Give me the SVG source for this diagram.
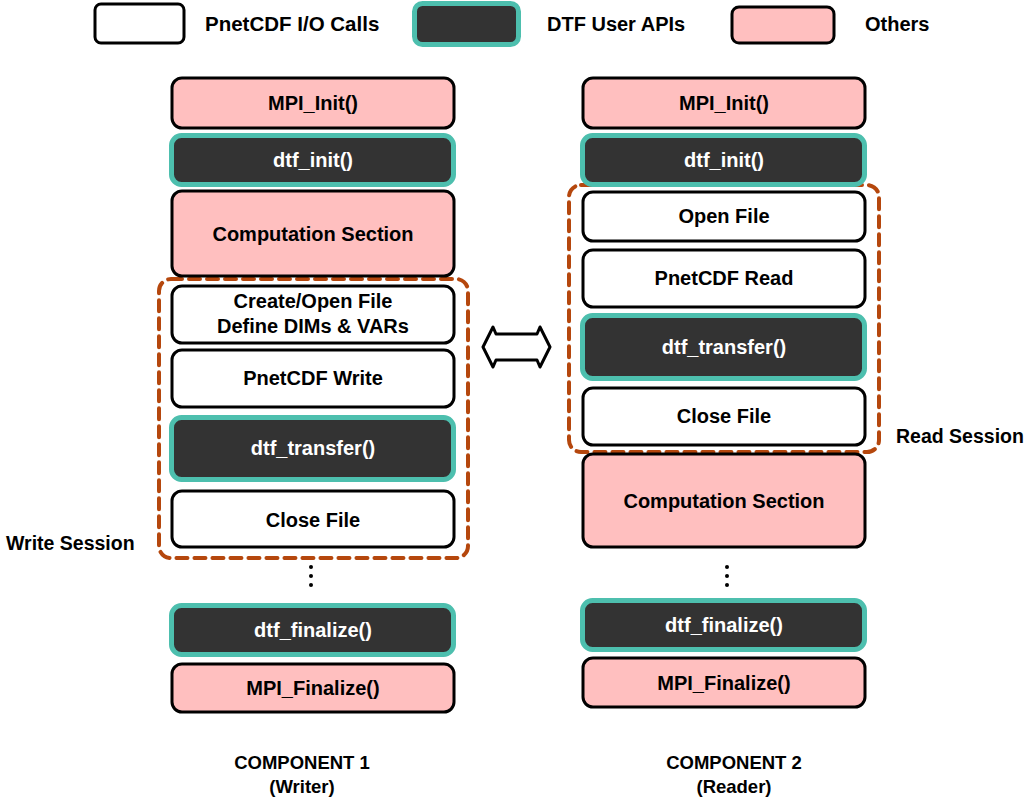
<svg xmlns="http://www.w3.org/2000/svg" width="1031" height="804" viewBox="0 0 1031 804">
<style>
text{font-family:"Liberation Sans",Arial,Helvetica,sans-serif;font-weight:bold;font-size:20px;text-anchor:middle;fill:#000}
.io{fill:#fff;stroke:#000;stroke-width:3}
.oth{fill:#ffbfbf;stroke:#000;stroke-width:3}
.dtf{fill:#333;stroke:#4dbfae;stroke-width:5}
text.w{fill:#fff}
.sess{fill:none;stroke:#b5470d;stroke-width:4;stroke-dasharray:11 7;stroke-linecap:round}
.lbl{text-anchor:start}
.comp{font-size:18.5px}
</style>
<rect width="1031" height="804" fill="#fff"/>
<g id="legend">
<rect class="io" x="95" y="4" width="89" height="39" rx="6"/>
<text class="lbl" x="205" y="31" style="font-size:20.5px">PnetCDF I/O Calls</text>
<rect class="dtf" x="414.5" y="3.5" width="104" height="41" rx="8"/>
<text class="lbl" x="547" y="31">DTF User APIs</text>
<rect class="oth" x="732" y="7" width="102" height="36" rx="7"/>
<text class="lbl" x="865" y="31">Others</text>
</g>
<g id="sessions">
<rect class="sess" x="159" y="279" width="309" height="279" rx="12"/>
<rect class="sess" x="569" y="185" width="310" height="267" rx="12"/>
<text class="lbl" x="6" y="550" style="font-size:19.5px">Write Session</text>
<text class="lbl" x="896" y="443" style="font-size:19.5px">Read Session</text>
</g>
<g id="c1-mpi-init"><rect class="oth" x="172" y="78" width="282" height="50" rx="10"/><text x="313" y="110">MPI_Init()</text></g>
<g id="c1-dtf-init"><rect class="dtf" x="171.5" y="135.5" width="282" height="49" rx="10"/><text class="w" x="313" y="167">dtf_init()</text></g>
<g id="c1-comp"><rect class="oth" x="172" y="191" width="282" height="85" rx="10"/><text x="313" y="241">Computation Section</text></g>
<g id="c1-create"><rect class="io" x="172" y="286" width="282" height="57" rx="10"/><text x="313" y="308">Create/Open File</text><text x="313" y="333">Define DIMs &amp; VARs</text></g>
<g id="c1-write"><rect class="io" x="172" y="350" width="282" height="57" rx="10"/><text x="313" y="385">PnetCDF Write</text></g>
<g id="c1-transfer"><rect class="dtf" x="171.5" y="417.5" width="282" height="62" rx="10"/><text class="w" x="313" y="455">dtf_transfer()</text></g>
<g id="c1-close"><rect class="io" x="172" y="491" width="282" height="56" rx="10"/><text x="313" y="527">Close File</text></g>
<g id="c1-dots" fill="#000"><circle cx="311" cy="567" r="2"/><circle cx="311" cy="576" r="2"/><circle cx="311" cy="585" r="2"/></g>
<g id="c1-finalize"><rect class="dtf" x="171.5" y="605.5" width="282" height="49" rx="10"/><text class="w" x="313" y="637">dtf_finalize()</text></g>
<g id="c1-mpi-finalize"><rect class="oth" x="172" y="664" width="282" height="48" rx="10"/><text x="313" y="695">MPI_Finalize()</text></g>
<g id="c1-label"><text class="comp" x="302" y="769">COMPONENT 1</text><text class="comp" x="302" y="793">(Writer)</text></g>

<g id="c2-mpi-init"><rect class="oth" x="583" y="78" width="282" height="50" rx="10"/><text x="724" y="110">MPI_Init()</text></g>
<g id="c2-dtf-init"><rect class="dtf" x="582.5" y="135.5" width="282" height="49" rx="10"/><text class="w" x="724" y="167">dtf_init()</text></g>
<g id="c2-open"><rect class="io" x="583" y="192" width="282" height="49" rx="10"/><text x="724" y="223">Open File</text></g>
<g id="c2-read"><rect class="io" x="583" y="250" width="282" height="57" rx="10"/><text x="724" y="285">PnetCDF Read</text></g>
<g id="c2-transfer"><rect class="dtf" x="582.5" y="315.5" width="282" height="63" rx="10"/><text class="w" x="724" y="354">dtf_transfer()</text></g>
<g id="c2-close"><rect class="io" x="583" y="388" width="282" height="57" rx="10"/><text x="724" y="423">Close File</text></g>
<g id="c2-comp"><rect class="oth" x="583" y="454" width="282" height="93" rx="10"/><text x="724" y="508">Computation Section</text></g>
<g id="c2-dots" fill="#000"><circle cx="727" cy="567" r="2"/><circle cx="727" cy="576" r="2"/><circle cx="727" cy="585" r="2"/></g>
<g id="c2-finalize"><rect class="dtf" x="582.5" y="600.5" width="282" height="49" rx="10"/><text class="w" x="724" y="632">dtf_finalize()</text></g>
<g id="c2-mpi-finalize"><rect class="oth" x="583" y="658" width="282" height="49" rx="10"/><text x="724" y="690">MPI_Finalize()</text></g>
<g id="c2-label"><text class="comp" x="734" y="769">COMPONENT 2</text><text class="comp" x="734" y="793">(Reader)</text></g>

<g id="connectors">
<path d="M483,347 L493,327 L496,334 L537,334 L540,327 L550,347 L540,367 L537,360 L496,360 L493,367 Z" fill="#fff" stroke="#000" stroke-width="3" stroke-linejoin="round"/>
</g>
</svg>
